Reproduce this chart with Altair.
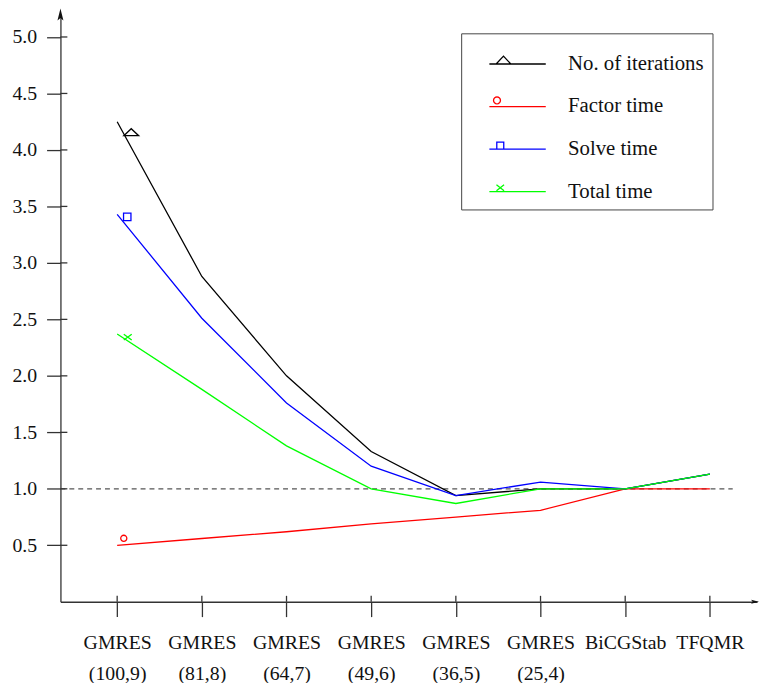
import math
import altair as alt
import pandas as pd

# ---------------- data ----------------
methods = ["GMRES", "GMRES", "GMRES", "GMRES", "GMRES", "GMRES", "BiCGStab", "TFQMR"]
params = ["(100,9)", "(81,8)", "(64,7)", "(49,6)", "(36,5)", "(25,4)", "", ""]
series = ["No. of iterations", "Factor time", "Solve time", "Total time"]
iterations = [4.25, 2.88, 2.00, 1.33, 0.94, 1.00, 1.00, 1.13]
factor_time = [0.50, 0.56, 0.62, 0.69, 0.75, 0.81, 1.00, 1.00]
solve_time = [3.43, 2.51, 1.76, 1.20, 0.94, 1.06, 1.00, 1.13]
total_time = [2.37, 1.88, 1.38, 1.00, 0.87, 1.00, 1.00, 1.13]
# single marker drawn on each curve (x in method-index units, y value)
marker_x = [0.166, 0.078, 0.119, 0.125]
marker_y = [4.157, 0.562, 3.407, 2.343]
y_ticks = [0.5, 1.0, 1.5, 2.0, 2.5, 3.0, 3.5, 4.0, 4.5, 5.0]
reference_value = 1.0
reference_end = 7.27
x_domain = [-0.67, 7.557]
y_domain = [0.0, 5.19]

colors = ["#000000", "#ff0000", "#0000ff", "#00ff00"]
FONT = "Liberation Serif"
W, H = 704, 592.5

values = [iterations, factor_time, solve_time, total_time]
rows = []
for s, vals in zip(series, values):
    for i, v in enumerate(vals):
        rows.append({"series": s, "idx": i, "value": v})
df = pd.DataFrame(rows)

# ---------------- shapes ----------------
def circle_path(cx, cy, r, n=16):
    pts = [(cx + r * math.cos(2 * math.pi * k / n), cy + r * math.sin(2 * math.pi * k / n)) for k in range(n)]
    return "M" + "L".join(f"{x:.3f},{y:.3f}" for x, y in pts) + "Z"

def scale_path(p, f=2.0):
    # scale every number of a simple M/L path by f
    out, num = [], ""
    for ch in p + " ":
        if ch in "0123456789.-" and not (ch == "-" and num):
            num += ch
        else:
            if num:
                out.append(f"{float(num) * f:.3f}")
                num = ""
            if ch == "-":
                num = "-"
                continue
            if ch != " ":
                out.append(ch)
    return "".join(out)

legend_paths = [scale_path(p) for p in [
    "M-1,0L1,0M-0.76,0L-0.5,-0.28L-0.24,0",
    "M-1,0L1,0" + circle_path(-0.73, -0.22, 0.123),
    "M-1,0L1,0M-0.737,0L-0.737,-0.245L-0.49,-0.245L-0.49,0",
    "M-1,0L1,0M-0.749,-0.245L-0.479,-0.035M-0.749,-0.035L-0.479,-0.245",
]]
marker_shapes = [
    ("M-1,0.47L0,-0.47L1,0.47Z", 225),
    ("circle", 38),
    ("square", 56),
    ("M-1,-0.75L1,0.75M-1,0.75L1,-0.75", 64),
]

xs = alt.Scale(domain=x_domain, nice=False, zero=False)
ys = alt.Scale(domain=y_domain, nice=False, zero=False)
color_scale = alt.Scale(domain=series, range=colors)
shape_scale = alt.Scale(domain=series, range=legend_paths)

label_arrays = ",".join(
    "[" + ",".join(f"'{t}'" for t in ([m, p] if p else [m])) + "]" for m, p in zip(methods, params)
)
label_expr = f"[{label_arrays}][datum.value]"

legend = alt.Legend(
    orient="none", legendX=405, legendY=18, title=" ",
    titleFontSize=6, titlePadding=2, titleFont=FONT,
    padding=8, strokeColor="#444444", fillColor="white",
    labelFont=FONT, labelFontSize=21, labelColor="#111111",
    labelOffset=36, rowPadding=18, symbolOffset=34,
    symbolSize=812, symbolStrokeWidth=1.3, symbolOpacity=1,
    symbolFillColor="transparent",
)

x_axis = alt.Axis(
    values=list(range(len(methods))), labelExpr=label_expr, title=None, grid=False,
    tickSize=15, labelPadding=16, labelLineHeight=32, labelFont=FONT, labelFontSize=20,
    labelColor="#111111", domainColor="#333333", tickColor="#333333",
    domainWidth=1.3, tickWidth=1.3, labelOverlap=False, labelFlush=False, labelBound=False,
)
y_axis = alt.Axis(
    values=y_ticks, format=".1f", title=None, grid=False,
    tickSize=14, labelPadding=10, labelFont=FONT, labelFontSize=20, labelColor="#111111",
    domainColor="#333333", tickColor="#333333", domainWidth=1.3, tickWidth=1.3,
)

base_x = alt.X("idx:Q", scale=xs, axis=x_axis)
base_y = alt.Y("value:Q", scale=ys, axis=y_axis)

ref = alt.Chart(pd.DataFrame({"x0": [x_domain[0]], "x1": [reference_end], "y": [reference_value]})).mark_rule(
    color="#555555", strokeDash=[5, 4], strokeWidth=1.2
).encode(x=alt.X("x0:Q", scale=xs), x2="x1:Q", y=alt.Y("y:Q", scale=ys))

lines = alt.Chart(df).mark_line(strokeWidth=1.3).encode(
    x=base_x, y=base_y,
    color=alt.Color("series:N", scale=color_scale, sort=series, legend=legend),
)

legend_layer = alt.Chart(df).transform_filter("false").mark_point(filled=False).encode(
    x=alt.X("idx:Q", scale=xs), y=alt.Y("value:Q", scale=ys),
    color=alt.Color("series:N", scale=color_scale, sort=series, legend=legend),
    shape=alt.Shape("series:N", scale=shape_scale, sort=series, legend=legend),
)

marker_layers = []
for k, s in enumerate(series):
    shp, size = marker_shapes[k]
    mdf = pd.DataFrame({"x": [marker_x[k]], "y": [marker_y[k]]})
    marker_layers.append(
        alt.Chart(mdf).mark_point(shape=shp, size=size, filled=False, color=colors[k], strokeWidth=1.3, opacity=1).encode(
            x=alt.X("x:Q", scale=xs), y=alt.Y("y:Q", scale=ys)
        )
    )

ytick_inner = alt.Chart(pd.DataFrame({"v": y_ticks})).mark_rule(color="#333333", strokeWidth=1.3).encode(
    y=alt.Y("v:Q", scale=ys), x=alt.value(0), x2=alt.value(7)
)
xtick_inner = alt.Chart(pd.DataFrame({"i": list(range(len(methods)))})).mark_rule(color="#333333", strokeWidth=1.3).encode(
    x=alt.X("i:Q", scale=xs), y=alt.value(H), y2=alt.value(H - 6)
)

arrow_df = pd.DataFrame({"a": [0]})
y_arrow = alt.Chart(arrow_df).mark_point(
    shape="M0,-1L0.5,1L0,0.6L-0.5,1Z", size=144, filled=True, color="#111111", opacity=1
).encode(x=alt.value(0), y=alt.value(-1))
x_arrow = alt.Chart(arrow_df).mark_point(
    shape="M1,0L-1,0.5L-0.6,0L-1,-0.5Z", size=64, filled=True, color="#111111", opacity=1
).encode(x=alt.value(W - 2), y=alt.value(H))

chart = alt.layer(
    ref, lines, legend_layer, *marker_layers, ytick_inner, xtick_inner, y_arrow, x_arrow
).properties(
    width=W, height=H, autosize="none",
    padding={"left": 53, "top": 4, "right": 2, "bottom": 78.5},
).configure_view(stroke=None).configure_axis(grid=False)

chart.save("out.html", embed_options={"renderer": "svg", "actions": False})
